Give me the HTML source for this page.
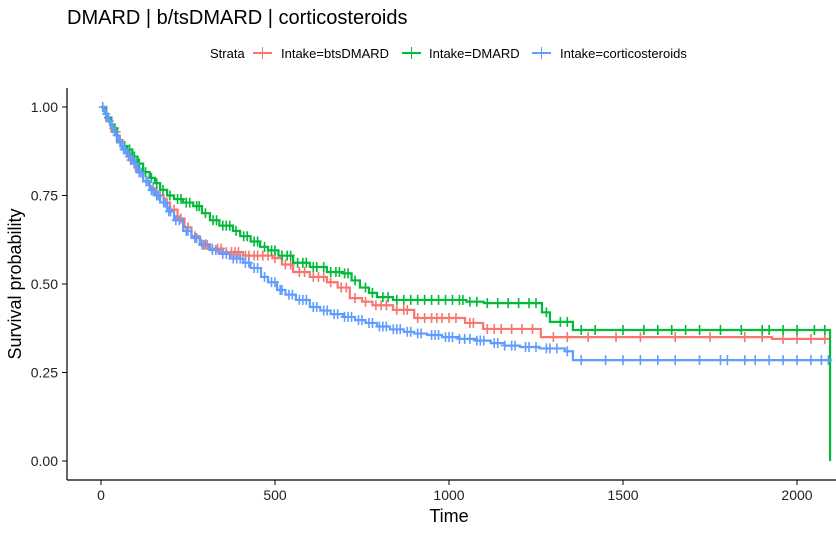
<!DOCTYPE html>
<html><head><meta charset="utf-8"><style>
body{margin:0;background:#fff;}
svg text{font-family:"Liberation Sans",sans-serif;}
</style></head><body>
<svg id="chart" width="836" height="531" xmlns="http://www.w3.org/2000/svg">
<text x="67" y="24" font-size="20" fill="#000">DMARD | b/tsDMARD | corticosteroids</text>
<g font-size="13">
<text x="210" y="58">Strata</text>
<g><line x1="253" y1="53" x2="272" y2="53" stroke="#F8766D" stroke-width="2"/><line x1="262.5" y1="47" x2="262.5" y2="59" stroke="#F8766D" stroke-width="1"/><text x="281" y="58">Intake=btsDMARD</text></g>
<g><line x1="402" y1="53" x2="421" y2="53" stroke="#00BA38" stroke-width="2"/><line x1="411.5" y1="47" x2="411.5" y2="59" stroke="#00BA38" stroke-width="1"/><text x="429" y="58">Intake=DMARD</text></g>
<g><line x1="532" y1="53" x2="551" y2="53" stroke="#619CFF" stroke-width="2"/><line x1="541.5" y1="47" x2="541.5" y2="59" stroke="#619CFF" stroke-width="1"/><text x="560" y="58">Intake=corticosteroids</text></g>
</g>
<g id="plot"></g>
<line x1="67" y1="88" x2="67" y2="480" stroke="#000" stroke-width="1.2"/>
<line x1="67" y1="480" x2="836" y2="480" stroke="#000" stroke-width="1.2"/>
<g id="axes" font-size="14" fill="#222"></g>
<text x="449" y="522" font-size="18" text-anchor="middle">Time</text>
<text transform="translate(21,284) rotate(-90)" font-size="18" text-anchor="middle">Survival probability</text>
</svg>
<script>
const xTicks=[0,500,1000,1500,2000];
const yTicks=[0,0.25,0.5,0.75,1];
const yTickLabels=["0.00","0.25","0.50","0.75","1.00"];
const redT=[0,15,30,46,60,80,100,121,140,160,180,198,220,240,260,284,310,350,408,494,520,552,600,649,680,715,750,780,839,900,1046,1098,1264,1928,2095];
const redS=[1,0.96,0.93,0.907,0.88,0.85,0.82,0.79,0.77,0.75,0.73,0.71,0.685,0.66,0.635,0.61,0.60,0.59,0.58,0.573,0.555,0.534,0.52,0.505,0.49,0.46,0.45,0.44,0.427,0.404,0.39,0.373,0.35,0.345,0.345];
const greenT=[0,15,30,46,60,75,90,105,121,140,155,170,190,210,236,265,290,313,340,379,400,430,457,480,510,552,600,649,696,720,744,770,793,839,1050,1100,1267,1290,1356,2095];
const greenS=[1,0.97,0.94,0.90,0.89,0.88,0.86,0.84,0.816,0.80,0.785,0.766,0.75,0.74,0.73,0.72,0.70,0.68,0.665,0.65,0.635,0.62,0.605,0.595,0.58,0.56,0.548,0.534,0.53,0.51,0.49,0.475,0.463,0.455,0.45,0.446,0.42,0.393,0.37,0.0];
const blueT=[0,10,20,30,40,50,60,75,90,105,121,140,155,170,190,210,236,260,285,313,340,370,408,430,460,480,506,530,560,600,630,660,696,730,760,793,830,870,900,937,980,1030,1080,1120,1160,1204,1260,1333,1356,2095];
const blueS=[1,0.98,0.96,0.94,0.92,0.90,0.88,0.86,0.84,0.815,0.79,0.765,0.75,0.73,0.705,0.68,0.65,0.63,0.612,0.596,0.585,0.572,0.56,0.545,0.52,0.505,0.483,0.47,0.455,0.435,0.425,0.415,0.407,0.398,0.39,0.38,0.372,0.365,0.36,0.356,0.35,0.345,0.34,0.333,0.326,0.322,0.318,0.31,0.285,0.285];
const redCens=[25,45,55,70,85,95,110,130,150,170,190,210,230,250,270,295,305,320,335,345,360,375,385,395,415,425,440,450,465,480,500,530,545,570,585,610,625,640,660,690,705,730,760,790,805,820,850,870,880,910,930,950,965,980,1000,1020,1060,1070,1110,1130,1150,1180,1210,1240,1300,1340,1400,1480,1550,1650,1750,1850,1900,1960,2000,2040,2080];
const greenCens=[20,40,55,68,82,96,110,128,145,160,178,198,220,230,245,255,275,282,300,322,332,350,360,370,388,410,420,440,450,470,490,500,520,535,545,565,580,590,610,620,640,660,675,685,700,710,730,760,780,810,825,850,870,890,910,930,950,970,990,1010,1030,1040,1060,1080,1110,1140,1170,1200,1230,1250,1280,1320,1340,1380,1420,1500,1560,1600,1640,1680,1720,1780,1840,1900,1920,1960,2000,2050,2080];
const blueCens=[5,15,25,35,45,55,65,70,80,85,95,100,110,115,130,135,145,150,160,165,180,185,195,200,215,225,245,250,270,275,290,300,320,330,350,360,380,390,400,415,425,440,450,470,490,500,515,520,540,550,570,580,590,610,620,640,650,670,680,700,710,720,740,750,770,780,800,810,820,840,850,860,880,890,910,920,950,960,970,990,1000,1010,1030,1045,1060,1080,1090,1100,1130,1140,1160,1180,1190,1220,1230,1250,1280,1290,1310,1340,1380,1450,1500,1550,1600,1650,1720,1780,1800,1850,1880,1920,1960,2000,2040,2070,2090];
const xs=t=>101+t*0.348;
const ys=s=>461-s*354;
const NS="http://www.w3.org/2000/svg";
const plot=document.getElementById('plot');
const axes=document.getElementById('axes');
function stepVal(T,S,t){let v=S[0];for(let i=0;i<T.length;i++){if(T[i]<=t)v=S[i];}return v;}
function drawSeries(T,S,C,color,name){
  let d="M"+xs(T[0])+","+ys(S[0]);
  for(let i=1;i<T.length;i++){d+=" H"+xs(T[i])+" V"+ys(S[i]);}
  const p=document.createElementNS(NS,'path');
  
  
  p.setAttribute('d',d);p.setAttribute('fill','none');p.setAttribute('stroke',color);p.setAttribute('stroke-width','2.2');
  plot.appendChild(p);
  C.forEach(t=>{
    const v=stepVal(T,S,t);
    const l=document.createElementNS(NS,'path');
    
    
    const x=xs(t),y=ys(v);
    l.setAttribute('d',"M"+(x-4)+","+y+" H"+(x+4)+" M"+x+","+(y-5)+" V"+(y+5));
    l.setAttribute('stroke',color);l.setAttribute('stroke-width','1.6');
    plot.appendChild(l);
  });
}
drawSeries(redT,redS,redCens,'#F8766D','btsdmard');
drawSeries(greenT,greenS,greenCens,'#00BA38','dmard');
drawSeries(blueT,blueS,blueCens,'#619CFF','corticosteroids');
xTicks.forEach(t=>{
  const l=document.createElementNS(NS,'line');
  
  
  l.setAttribute('x1',xs(t));l.setAttribute('x2',xs(t));l.setAttribute('y1',480);l.setAttribute('y2',485);l.setAttribute('stroke','#000');
  axes.appendChild(l);
  const tx=document.createElementNS(NS,'text');
  
  
  tx.setAttribute('x',xs(t));tx.setAttribute('y',500);tx.setAttribute('text-anchor','middle');tx.textContent=t;
  axes.appendChild(tx);
});
yTicks.forEach((v,i)=>{
  const l=document.createElementNS(NS,'line');
  
  
  l.setAttribute('x1',62);l.setAttribute('x2',67);l.setAttribute('y1',ys(v));l.setAttribute('y2',ys(v));l.setAttribute('stroke','#000');
  axes.appendChild(l);
  const tx=document.createElementNS(NS,'text');
  
  
  tx.setAttribute('x',58);tx.setAttribute('y',ys(v)+5);tx.setAttribute('text-anchor','end');tx.textContent=yTickLabels[i];
  axes.appendChild(tx);
});
</script>
</body></html>
